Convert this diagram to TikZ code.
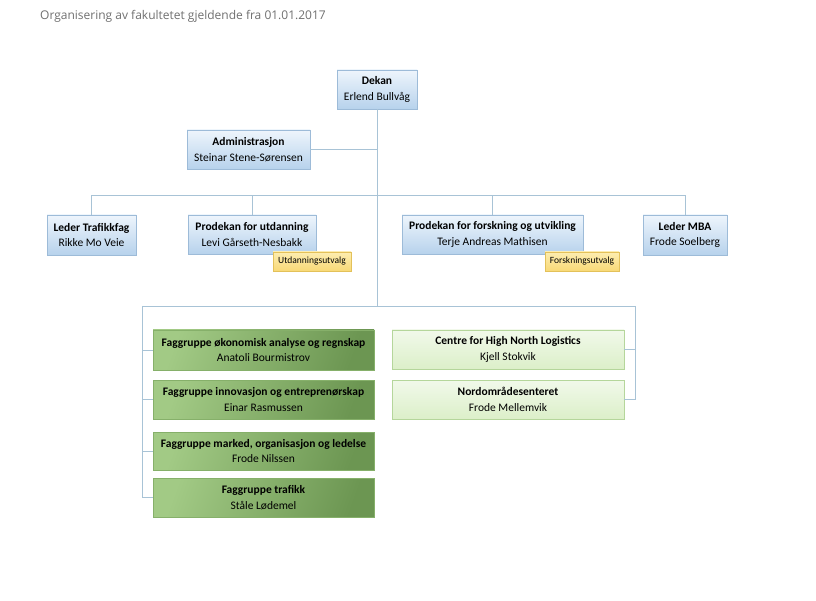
\documentclass[tikz,border=0pt]{standalone}
\usepackage{fontspec}
\setmainfont{Carlito}
\newfontfamily\titlefont{Open Sans}
\definecolor{linec}{HTML}{A8C3D6}
\definecolor{bluetop}{HTML}{EEF5FC}
\definecolor{bluebot}{HTML}{B7D2EC}
\definecolor{blueedge}{HTML}{9DBBD8}
\definecolor{gleft}{HTML}{A2CA85}
\definecolor{gright}{HTML}{6C9652}
\definecolor{gedge}{HTML}{86B06A}
\definecolor{lgtop}{HTML}{F1F9EA}
\definecolor{lgbot}{HTML}{DCEFC9}
\definecolor{lgedge}{HTML}{B5D69B}
\definecolor{ytop}{HTML}{FDEDB0}
\definecolor{ybot}{HTML}{F8D977}
\definecolor{yedge}{HTML}{E3C15A}
\definecolor{titlec}{HTML}{707070}
\tikzset{
  box/.style={draw, line width=0.6pt, inner sep=1pt, align=center,
    font=\fontsize{11.5}{15.5}\selectfont},
  bluebox/.style={box, draw=blueedge, top color=bluetop, bottom color=bluebot, minimum height=39pt},
  greenbox/.style={box, draw=gedge, left color=gleft, right color=gright, shading angle=70, minimum width=221pt},
  lgbox/.style={box, draw=lgedge, top color=lgtop, bottom color=lgbot, minimum width=232pt, minimum height=39pt},
  ybox/.style={draw=yedge, line width=0.6pt, top color=ytop, bottom color=ybot, inner sep=1pt,
    minimum height=19pt, font=\fontsize{9.5}{11}\selectfont},
  conn/.style={draw=linec, line width=0.8pt},
}
\begin{document}
\begin{tikzpicture}[x=1pt,y=-1pt]
\useasboundingbox (0,0) rectangle (816,601);
\fill[white] (0,0) rectangle (816,601);
\node[font=\titlefont\fontsize{12}{14}\selectfont, text=titlec, anchor=west, inner sep=0] (title) at (40,16) {Organisering av fakultetet gjeldende fra 01.01.2017};

\node[bluebox, minimum width=80pt] (dekan) at (377,89.5) {\textbf{Dekan}\\Erlend Bullvåg};
\node[bluebox, minimum width=123pt] (admin) at (248.5,149.5) {\textbf{Administrasjon}\\Steinar Stene-Sørensen};
\node[bluebox, minimum width=89pt, minimum height=40pt] (trafikk) at (91.5,235) {\textbf{Leder Trafikkfag}\\Rikke Mo Veie};
\node[bluebox, minimum width=128pt] (utd) at (252,234.5) {\textbf{Prodekan for utdanning}\\Levi Gårseth-Nesbakk};
\node[bluebox, minimum width=181pt] (forsk) at (492.5,234.5) {\textbf{Prodekan for forskning og utvikling}\\Terje Andreas Mathisen};
\node[bluebox, minimum width=84pt, minimum height=40pt] (mba) at (685,235) {\textbf{Leder MBA}\\Frode Soelberg};
\node[ybox, minimum width=78pt] (utdu) at (312,261.5) {Utdanningsutvalg};
\node[ybox, minimum width=74pt] (forsku) at (582,261.5) {Forskningsutvalg};

\node[greenbox, minimum height=40pt] (fg1) at (263.5,350) {\textbf{Faggruppe økonomisk analyse og regnskap}\\Anatoli Bourmistrov};
\node[greenbox, minimum height=39pt] (fg2) at (263.5,399.5) {\textbf{Faggruppe innovasjon og entreprenørskap}\\Einar Rasmussen};
\node[greenbox, minimum height=38pt] (fg3) at (263.5,451) {\textbf{Faggruppe marked, organisasjon og ledelse}\\Frode Nilssen};
\node[greenbox, minimum height=39pt] (fg4) at (263.5,497.5) {\textbf{Faggruppe trafikk}\\Ståle Lødemel};
\node[lgbox] (chnl) at (508,349.5) {\textbf{Centre for High North Logistics}\\Kjell Stokvik};
\node[lgbox] (nord) at (508,399.5) {\textbf{Nordområdesenteret}\\Frode Mellemvik};

\coordinate (hb) at (377,195);
\coordinate (lb) at (142,306);
\coordinate (rb) at (635,306);
\coordinate (mid) at (377,306);

\path[conn] (dekan.south) -- (mid);
\path[conn] (admin.east) -- (admin.east -| dekan.south);
\path[conn] (trafikk.north) -- (trafikk.north |- hb) -- (mba.north |- hb) -- (mba.north);
\path[conn] (utd.north) -- (utd.north |- hb);
\path[conn] (forsk.north) -- (forsk.north |- hb);
\path[conn] (lb) -- (rb);
\path[conn] (lb) |- (fg4.west);
\path[conn] (fg1.west -| lb) -- (fg1.west);
\path[conn] (fg2.west -| lb) -- (fg2.west);
\path[conn] (fg3.west -| lb) -- (fg3.west);
\path[conn] (rb) |- (nord.east);
\path[conn] (chnl.east -| rb) -- (chnl.east);
\end{tikzpicture}
\end{document}
